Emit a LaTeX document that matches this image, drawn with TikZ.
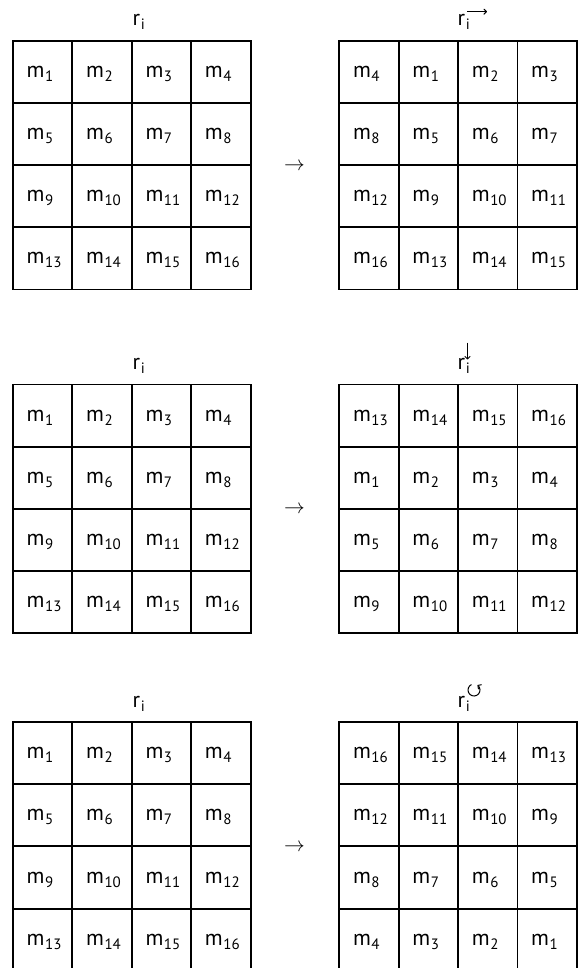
\documentclass[tikz,border=0pt]{standalone}
\usepackage{fontspec}
\setmainfont{PT Sans}
\usetikzlibrary{arrows.meta,calc}
\newcommand{\mm}[1]{m\kern0.6pt\raisebox{-4pt}{\fontsize{15}{15}\selectfont #1}}
\newcommand{\ri}{r\kern0.8pt\raisebox{-4pt}{\fontsize{15}{15}\selectfont i}}
\begin{document}
\begin{tikzpicture}[x=1pt,y=-1pt,
  gridline/.style={line width=1.9pt,line cap=rect},
  cell/.style={anchor=base west,inner sep=0pt,font=\fontsize{22}{24}\selectfont},
  lab/.style={anchor=base west,inner sep=0pt,font=\fontsize{22}{24}\selectfont},
  midarrow/.style={anchor=base,inner sep=0pt,font=\fontsize{21}{24}\selectfont},
  suparrow/.style={line width=1pt,-{To[length=3.5pt,width=6pt]}}]
\useasboundingbox (0,0) rectangle (582,968);
% grids
\foreach \bx in {13,339.3}{
  \foreach \by in {40.7,384.5,722}{
    \foreach \i in {0,...,4}{
      \draw[gridline] (\bx+\i*59.4,\by) -- (\bx+\i*59.4,\by+248.8);
      \draw[gridline] (\bx,\by+\i*62.2) -- (\bx+237.6,\by+\i*62.2);
    }
  }
}
% cell texts
\foreach \blk/\by in {1/40.7,2/384.5,3/722}{
  \foreach \r in {0,...,3}{
    \foreach \c in {0,...,3}{
      \pgfmathtruncatemacro\nl{4*\r+\c+1}
      \pgfmathtruncatemacro\na{4*\r+mod(\c+3,4)+1}
      \pgfmathtruncatemacro\nb{4*mod(\r+3,4)+\c+1}
      \pgfmathtruncatemacro\nc{16-4*\r-\c}
      \ifnum\blk=1 \let\nr\na\fi
      \ifnum\blk=2 \let\nr\nb\fi
      \ifnum\blk=3 \let\nr\nc\fi
      \node[cell] (L\blk-\r\c) at (13+\c*59.4+13.5,\by+\r*62.2+36.6) {\mm{\nl}};
      \node[cell] (R\blk-\r\c) at (339.3+\c*59.4+13.5,\by+\r*62.2+36.6) {\mm{\nr}};
    }
  }
  \node[lab] (rL\blk) at (132.3,\by-15) {\ri};
  \node[lab] (rR\blk) at (457.5,\by-15) {\ri};
  \node[midarrow] (ar\blk) at (294.5,\by+129.4) {$\rightarrow$};
}
% superscript arrows
\draw[suparrow] ($(rR1.base west)+(9.5,-14)$) -- ++(20,0);
\draw[suparrow] ($(rR2.base west)+(10,-27)$) -- ++(0,17);
\coordinate (cc) at ($(rR3.base west)+(16.5,-17)$);
\draw[suparrow] ($(cc)+(-115:6)$) arc[start angle=-115,end angle=-415,radius=6];
\end{tikzpicture}
\end{document}
